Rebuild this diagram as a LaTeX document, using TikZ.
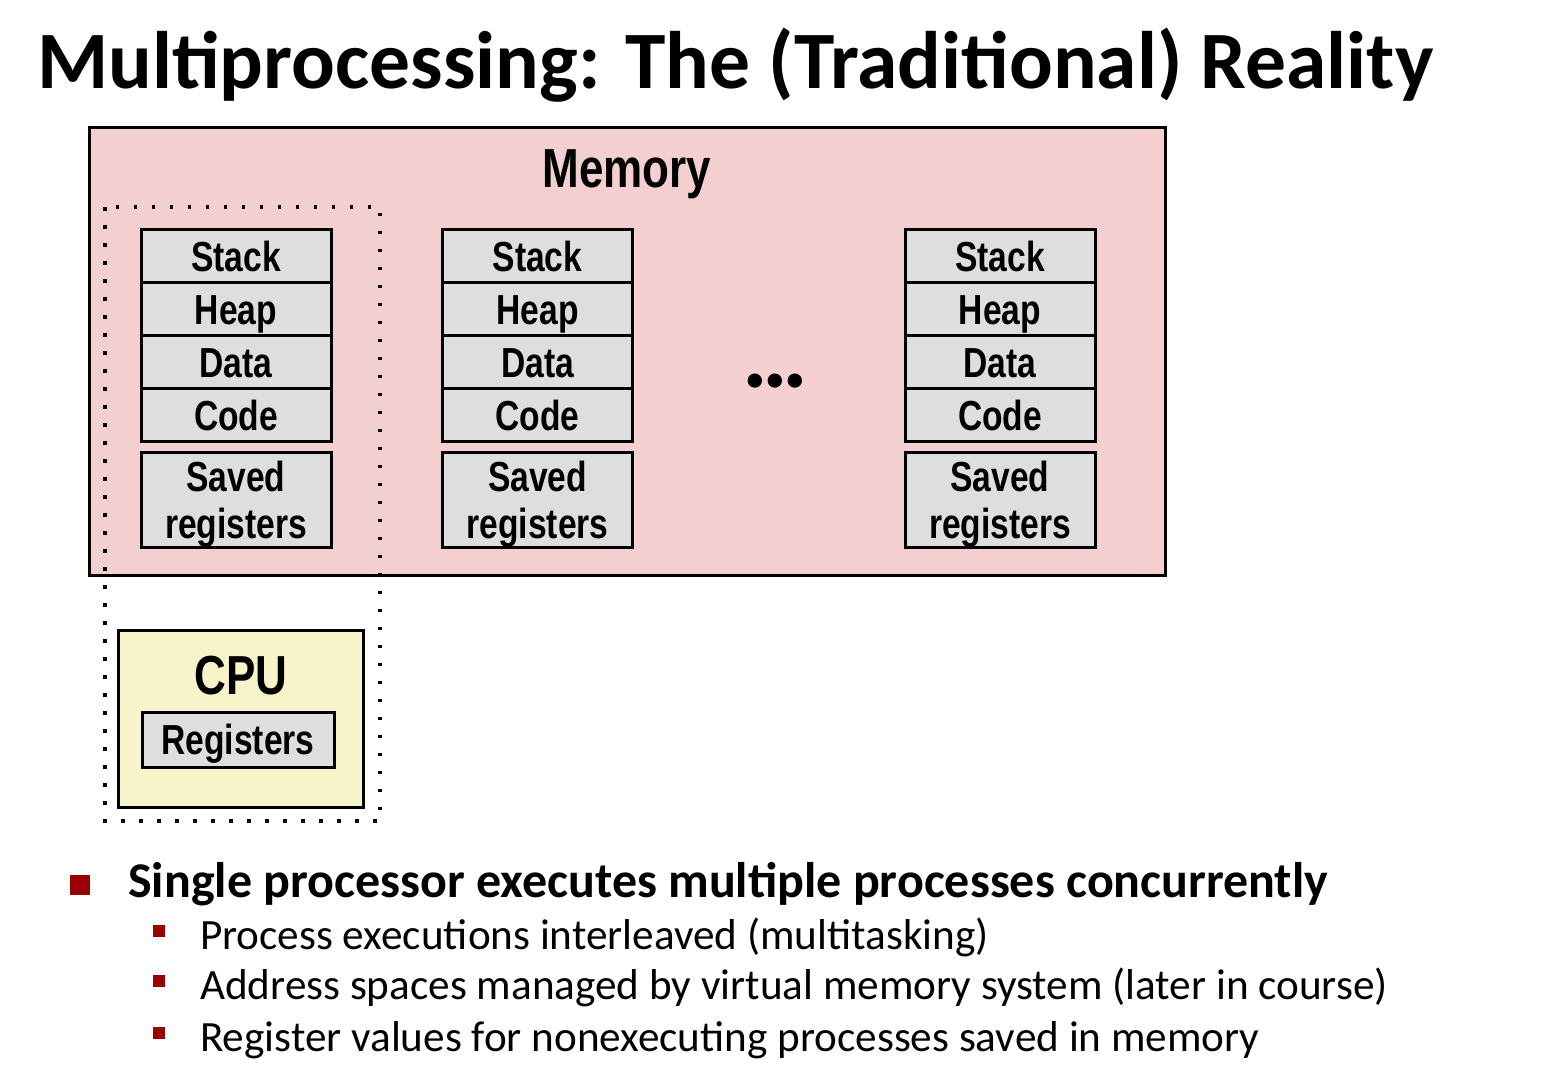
\documentclass[tikz,border=0pt]{standalone}
\usepackage{fontspec}
\setmainfont{Carlito}
\newfontfamily\narrowfont[FakeStretch=0.8]{Liberation Sans}
\definecolor{mempink}{HTML}{F4CFCF}
\definecolor{cpuyellow}{HTML}{F8F4C9}
\definecolor{cellgray}{HTML}{DEDEDE}
\definecolor{bulletred}{HTML}{990000}
\begin{document}
\begin{tikzpicture}[x=1pt,y=-1pt,
  cell/.style={draw=black,line width=3pt,fill=cellgray,inner sep=0pt,minimum width=190pt,
    font=\narrowfont\bfseries\fontsize{42}{46}\selectfont,align=center},
  seg/.style={cell,minimum height=53pt,text height=30pt,text depth=0pt},
  saved/.style={cell,minimum height=95pt,text depth=0pt},
  dotbox/.style={line width=3.5pt,dash pattern=on 3.5pt off 14.5pt},
  bigbul/.style={fill=bulletred,minimum size=20pt,inner sep=0pt},
  smallbul/.style={fill=bulletred,minimum size=12pt,inner sep=0pt},
  btext/.style={anchor=base west,inner sep=0pt}
]
\useasboundingbox (0,0) rectangle (1541,1079);
% title
\node[btext,font=\bfseries\fontsize{81.5}{90}\selectfont] (title) at (37,88) {Multiprocessing: The (Traditional) Reality};
% memory
\node[draw=black,line width=3pt,fill=mempink,minimum width=1076pt,minimum height=448pt,inner sep=0pt] (mem) at (627,351) {};
\node[font=\narrowfont\bfseries\fontsize{55}{60}\selectfont] (memlabel) at (627,174) {Memory};
% columns
\foreach \c/\x in {a/236,b/537.5,c/1000}{
  \node[seg] (\c stack) at (\x,256) {Stack};
  \node[seg] (\c heap) at (\x,309) {Heap};
  \node[seg] (\c data) at (\x,362) {Data};
  \node[seg] (\c code) at (\x,415) {Code};
  \node[saved] (\c saved) at (\x,500) {Saved\\[1pt]registers};
}
\node[font=\bfseries\fontsize{96}{96}\selectfont,inner sep=0pt] (dots) at (775,381) {.\kern-5.5pt.\kern-5.5pt.};
% cpu
\node[draw=black,line width=3pt,fill=cpuyellow,minimum width=245pt,minimum height=177pt,inner sep=0pt] (cpu) at (240.5,718.5) {};
\node[font=\narrowfont\bfseries\fontsize{55}{60}\selectfont] (cpulabel) at (241,676) {CPU};
\node[cell,minimum width=192pt,minimum height=55pt,text height=30pt,text depth=0pt] (regs) at (238,739.5) {Registers};
% dotted process boundary
\draw[dotbox] (105,207) rectangle (380,821);
% bullets
\node[bigbul] (b0) at (80,885) {};
\node[btext,font=\bfseries\fontsize{50}{54}\selectfont] (t0) at (128,897) {Single processor executes multiple processes concurrently};
\node[smallbul] (b1) at (159,931) {};
\node[btext,font=\fontsize{43.2}{46}\selectfont] (t1) at (200,949) {Process executions interleaved (multitasking)};
\node[smallbul] (b2) at (159,981) {};
\node[btext,font=\fontsize{43.2}{46}\selectfont] (t2) at (200,999) {Address spaces managed by virtual memory system (later in course)};
\node[smallbul] (b3) at (159,1033) {};
\node[btext,font=\fontsize{43.2}{46}\selectfont] (t3) at (200,1051) {Register values for nonexecuting processes saved in memory};
\end{tikzpicture}
\end{document}
